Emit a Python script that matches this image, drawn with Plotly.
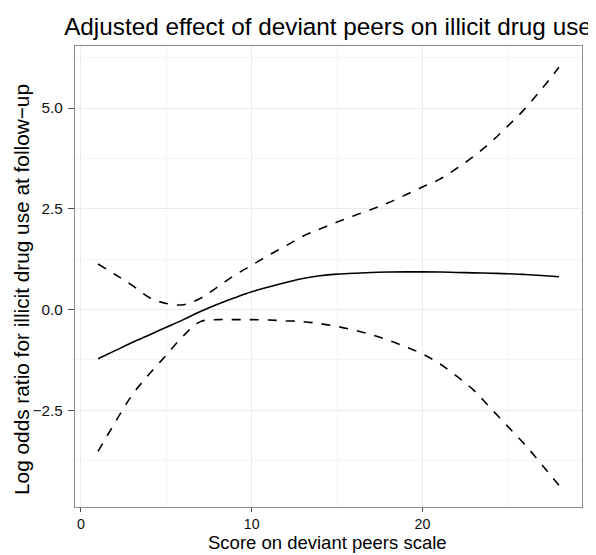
import plotly.graph_objects as go

# Data
score = list(range(1, 29))
fit = [-1.22, -1.02, -0.82, -0.63, -0.44, -0.25, -0.05, 0.13, 0.29, 0.44,
       0.56, 0.67, 0.77, 0.84, 0.88, 0.90, 0.92, 0.93, 0.935, 0.935,
       0.93, 0.92, 0.91, 0.90, 0.89, 0.87, 0.845, 0.815]
upper = [1.13, 0.87, 0.60, 0.30, 0.15, 0.12, 0.28, 0.56, 0.85, 1.10,
         1.35, 1.58, 1.82, 2.00, 2.17, 2.33, 2.48, 2.65, 2.84, 3.04,
         3.23, 3.50, 3.80, 4.15, 4.55, 4.98, 5.48, 6.01]
lower = [-3.52, -2.80, -2.12, -1.60, -1.13, -0.65, -0.30, -0.25, -0.25, -0.25,
         -0.26, -0.28, -0.30, -0.35, -0.42, -0.51, -0.62, -0.76, -0.92, -1.10,
         -1.34, -1.65, -2.00, -2.45, -2.90, -3.35, -3.85, -4.36]

x_ticks = [0, 10, 20]
y_ticks = [-2.5, 0.0, 2.5, 5.0]
y_ticktext = ["\u22122.5", "0.0", "2.5", "5.0"]

title_text = "Adjusted effect of deviant peers on illicit drug use"
x_title = "Score on deviant peers scale"
y_title = "Log odds ratio for illicit drug use at follow\u2212up"

fig = go.Figure()
fig.add_trace(go.Scatter(x=score, y=upper, mode="lines", line=dict(color="black", width=1.6, dash="dash", shape="spline"), showlegend=False))
fig.add_trace(go.Scatter(x=score, y=lower, mode="lines", line=dict(color="black", width=1.6, dash="dash", shape="spline"), showlegend=False))
fig.add_trace(go.Scatter(x=score, y=fit, mode="lines", line=dict(color="black", width=1.6, shape="spline"), showlegend=False))

font_family = "Liberation Sans, Arial, sans-serif"
# page body has an 8px default margin, so the figure is 8px smaller than the window
fig.update_layout(
    width=588, height=547,
    margin=dict(l=67, r=14, t=38, b=48),
    paper_bgcolor="white", plot_bgcolor="white",
    font=dict(family=font_family, color="black"),
    title=dict(text=title_text, x=0.5442, xanchor="center", y=0.966, yanchor="middle",
               font=dict(size=24.3, color="black")),
    xaxis=dict(
        range=[-0.35, 29.35], tickvals=x_ticks, ticks="outside", ticklen=4,
        tickcolor="#4d4d4d", tickwidth=1.2, automargin=False, ticklabelstandoff=0,
        showline=True, linecolor="#8c8c8c", linewidth=1.2, mirror=True,
        showgrid=True, gridcolor="#ebebeb", gridwidth=1, zeroline=False,
        minor=dict(dtick=5, tick0=0, showgrid=True, gridcolor="#f4f4f4", ticklen=0),
        tickfont=dict(size=14.2, color="#111111"),
    ),
    yaxis=dict(
        range=[-4.90, 6.54], tickvals=y_ticks, ticktext=y_ticktext, ticks="outside", ticklen=6,
        tickcolor="#4d4d4d", tickwidth=1.2, automargin=False, ticklabelstandoff=2,
        showline=True, linecolor="#8c8c8c", linewidth=1.2, mirror=True,
        showgrid=True, gridcolor="#ebebeb", gridwidth=1, zeroline=False,
        minor=dict(dtick=1.25, tick0=0, showgrid=True, gridcolor="#f4f4f4", ticklen=0),
        tickfont=dict(size=15.3, color="#111111"),
    ),
    annotations=[
        dict(text=x_title, xref="paper", yref="paper", x=0.499, y=-0.0775,
             xanchor="center", yanchor="middle", showarrow=False, borderpad=0,
             font=dict(size=18.5, color="black")),
        dict(text=y_title, xref="paper", yref="paper", x=-0.1045, y=0.4708,
             xanchor="center", yanchor="middle", showarrow=False, textangle=-90,
             font=dict(size=20.8, color="black")),
    ],
)

fig.write_html("out.html")
